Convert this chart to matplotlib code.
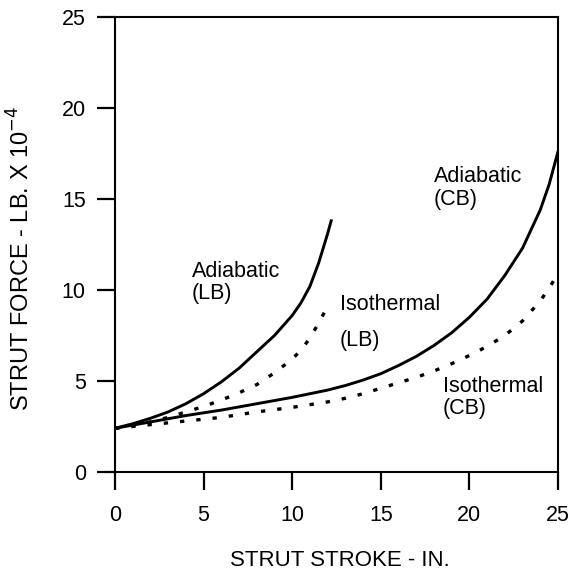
import matplotlib
matplotlib.use("Agg")
import matplotlib.pyplot as plt

plt.rcParams["font.family"] = ["Liberation Sans", "DejaVu Sans"]

# stroke (in.) and strut force (lb x 10^-4)
alb_stroke = [0, 1, 2, 3, 4, 5, 6, 7, 8, 9, 10, 10.5, 11, 11.5, 12, 12.2]
adiabatic_lb = [2.4, 2.65, 2.95, 3.3, 3.75, 4.3, 4.95, 5.7, 6.6, 7.5, 8.6, 9.3, 10.2, 11.5, 13.1, 13.8]

ilb_stroke = [0, 1, 2, 3, 4, 5, 6, 7, 8, 9, 10, 10.5, 11, 11.5, 12]
isothermal_lb = [2.4, 2.55, 2.75, 3.0, 3.3, 3.6, 3.95, 4.35, 4.8, 5.45, 6.2, 6.7, 7.35, 8.2, 9.1]

cb_stroke = [0, 2, 4, 6, 8, 10, 12, 13, 14, 15, 16, 17, 18, 19, 20, 21, 22, 23, 24, 24.5, 25]
adiabatic_cb = [2.4, 2.75, 3.1, 3.4, 3.75, 4.1, 4.5, 4.75, 5.05, 5.4, 5.85, 6.35, 6.95, 7.65,
                8.5, 9.5, 10.8, 12.3, 14.4, 15.8, 17.6]
isothermal_cb = [2.4, 2.6, 2.8, 3.0, 3.3, 3.55, 3.85, 4.05, 4.3, 4.6, 4.9, 5.2, 5.55, 5.95,
                 6.4, 6.9, 7.5, 8.3, 9.4, 10.1, 10.9]

ticks = [0, 5, 10, 15, 20, 25]

fig = plt.figure(figsize=(5.73, 5.76), dpi=100)
ax = fig.add_axes([0.2007, 0.1806, 0.7731, 0.7899])

dots = (0, (1.3, 3.6))
ax.plot(alb_stroke, adiabatic_lb, color="black", lw=2.1)
ax.plot(ilb_stroke, isothermal_lb, color="black", lw=2.4, linestyle=dots)
ax.plot(cb_stroke, adiabatic_cb, color="black", lw=2.1)
ax.plot(cb_stroke, isothermal_cb, color="black", lw=2.4, linestyle=dots)

ax.set_xlim(0, 25)
ax.set_ylim(0, 25)
ax.set_xticks(ticks)
ax.set_yticks(ticks)
ax.tick_params(axis="both", direction="out", length=13, width=1.6, labelsize=15.5)
ax.tick_params(axis="y", pad=8)
ax.tick_params(axis="x", pad=11)

for s in ax.spines.values():
    s.set_linewidth(1.5)

ax.set_xlabel("STRUT STROKE - IN.", fontsize=16)
ax.xaxis.set_label_coords(0.507, -0.172)
ax.set_ylabel("STRUT FORCE - LB. X 10$^{\\mathrm{-4}}$", fontsize=17)
ax.yaxis.set_label_coords(-0.182, 0.47)

fs = 15.5
ax.text(4.35, 11.6, "Adiabatic\n(LB)", fontsize=fs, va="top", ha="left", linespacing=1.1)
ax.text(12.7, 9.2, "Isothermal", fontsize=fs, va="center", ha="left")
ax.text(12.7, 7.25, "(LB)", fontsize=fs, va="center", ha="left")
ax.text(18.0, 16.8, "Adiabatic\n(CB)", fontsize=fs, va="top", ha="left", linespacing=1.1)
ax.text(18.5, 5.3, "Isothermal\n(CB)", fontsize=fs, va="top", ha="left", linespacing=1.1)

fig.savefig("out.png", dpi=100)
